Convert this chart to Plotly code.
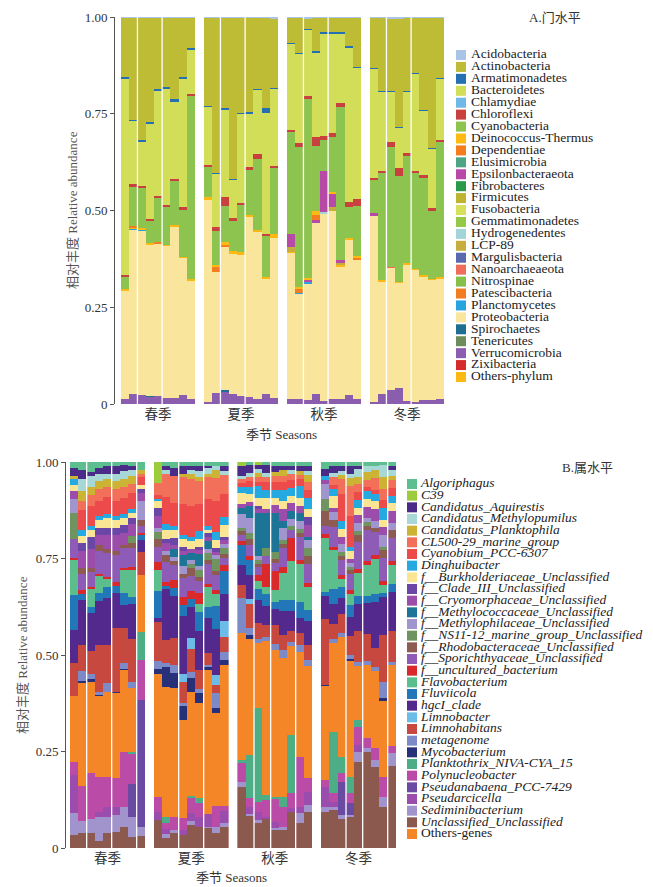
import plotly.graph_objects as go

W, H = 653, 887
FONT = "Liberation Serif, Noto Sans CJK SC, serif"

seasons = ["春季", "夏季", "秋季", "冬季"]
samples = ["1", "2", "3", "4", "5", "6", "7", "8", "9"]
y_ticks = [0, 0.25, 0.5, 0.75, 1.0]
y_ticktext = ["0", "0.25", "0.50", "0.75", "1.00"]

# ---------------- Phylum level (A) ----------------
phyla = ["Acidobacteria", "Actinobacteria", "Armatimonadetes", "Bacteroidetes", "Chlamydiae",
         "Chloroflexi", "Cyanobacteria", "Deinococcus-Thermus", "Dependentiae", "Elusimicrobia",
         "Epsilonbacteraeota", "Fibrobacteres", "Firmicutes", "Fusobacteria", "Gemmatimonadetes",
         "Hydrogenedentes", "LCP-89", "Margulisbacteria", "Nanoarchaeaeota", "Nitrospinae",
         "Patescibacteria", "Planctomycetes", "Proteobacteria", "Spirochaetes", "Tenericutes",
         "Verrucomicrobia", "Zixibacteria", "Others-phylum"]
phylum_colors = ["#A9C4E4", "#BEBB35", "#2470B3", "#D2DD58", "#70B8E6",
                 "#C8413E", "#8DC44F", "#FDBA12", "#F47D20", "#4CA585",
                 "#B74AA6", "#2A9A48", "#BDB431", "#D6E05A", "#93C947",
                 "#A3D5D8", "#C6AE3E", "#5A68B0", "#F06C5A", "#84C04A",
                 "#F27C22", "#27A4DE", "#F9E69C", "#1D6E92", "#6E8C59",
                 "#8B5DAE", "#D62B2D", "#FCB813"]

acidobacteria = [.003, .002, .002, .002, .002, .002, .002, .002, .002,
                 .002, .002, .002, .002, .002, .002, .002, .002, .004,
                 .003, .003, .004, .002, .002, .002, .002, .002, .002,
                 .002, .002, .004, .004, .002, .002, .002, .002, .002]
actinobacteria = [.153, .264, .317, .269, .184, .179, .209, .153, .078,
                  .227, .401, .234, .416, .245, .244, .183, .233, .178,
                  .064, .090, .027, .087, .038, .038, .038, .074, .126,
                  .131, .188, .186, .279, .188, .142, .238, .337, .156]
armatimonadetes = [.004, .004, .004, .005, .004, .004, .009, .004, .004,
                   .004, .002, .005, .002, .004, .004, .004, .013, .004,
                   .003, .003, .003, .003, .003, .003, .003, .003, .003,
                   .002, .004, .004, .003, .003, .003, .003, .003, .003]
bacteroidetes = [.507, .161, .113, .246, .272, .301, .199, .333, .116,
                 .149, .137, .225, .100, .229, .138, .165, .312, .199,
                 .221, .230, .171, .218, .264, .257, .179, .398, .340,
                 .282, .203, .128, .105, .159, .251, .165, .152, .157]
chlamydiae = [0, 0, 0, 0, 0, 0, 0, 0, 0, 0, 0, 0, 0, 0, 0, 0, 0, 0,
              0, 0, 0, 0, 0, 0, 0, 0, 0, 0, 0, 0, 0, 0, 0, 0, 0, 0]
chloroflexi = [.006, .007, .005, .006, .006, .006, .006, .006, .005,
               .006, .010, .022, .006, .007, .008, .013, .006, .006,
               .007, .010, .008, .024, .010, .009, .011, .013, .017,
               .004, .007, .013, .021, .006, .006, .007, .006, .006]
cyanobacteria = [.031, .102, .105, .057, .114, .096, .113, .121, .472,
                 .077, .089, .093, .079, .121, .116, .183, .106, .169,
                 .262, .362, .462, .168, .082, .142, .395, .080, .129,
                 .085, .276, .310, .272, .278, .246, .252, .176, .347]
deinococcus = [0, 0, 0, 0, 0, 0, 0, 0, 0,
               0, .005, .007, .008, 0, 0, 0, 0, 0,
               0, .004, .005, .010, 0, .006, 0, .006, .005,
               0, 0, 0, 0, 0, 0, 0, 0, 0]
dependentiae = [0, .004, 0, 0, .004, 0, 0, 0, 0,
                0, .012, .006, 0, 0, 0, 0, 0, 0,
                0, .010, 0, .012, 0, 0, 0, 0, .005,
                0, 0, 0, 0, 0, 0, 0, 0, 0]
elusimicrobia = [0, 0, 0, 0, 0, 0, 0, 0, 0, 0, 0, 0, 0, 0, 0, 0, 0, 0,
                 0, 0, 0, 0, 0, 0, 0, 0, 0, 0, 0, 0, 0, 0, 0, 0, 0, 0]
epsilonbacteraeota = [0, 0, 0, 0, 0, 0, 0, 0, 0,
                      0, 0, 0, 0, 0, 0, 0, 0, 0,
                      .034, 0, .006, .008, .104, .035, .008, 0, 0,
                      .008, 0, 0, 0, 0, 0, 0, 0, 0]
fibrobacteres = [0, 0, 0, 0, 0, 0, 0, 0, 0, 0, 0, 0, 0, 0, 0, 0, 0, 0,
                 0, 0, 0, 0, 0, 0, 0, 0, 0, 0, 0, 0, 0, 0, 0, 0, 0, 0]
firmicutes = [0, 0, 0, 0, 0, 0, 0, 0, 0, 0, 0, 0, 0, 0, 0, 0, 0, 0,
              0, 0, 0, 0, 0, 0, 0, 0, 0, 0, 0, 0, 0, 0, 0, 0, 0, 0]
fusobacteria = [0, 0, 0, 0, 0, 0, 0, 0, 0, 0, 0, 0, 0, 0, 0, 0, 0, 0,
                0, 0, 0, 0, 0, 0, 0, 0, 0, 0, 0, 0, 0, 0, 0, 0, 0, 0]
gemmatimonadetes = [0, 0, 0, 0, 0, 0, 0, 0, 0, 0, 0, 0, 0, 0, 0, 0, 0, 0,
                    0, 0, 0, 0, 0, 0, 0, 0, 0, 0, 0, 0, 0, 0, 0, 0, 0, 0]
hydrogenedentes = [0, 0, 0, 0, 0, 0, 0, 0, 0,
                   0, 0, 0, 0, 0, 0, 0, 0, 0,
                   0, 0, 0, 0, .005, 0, 0, 0, 0,
                   0, 0, 0, 0, 0, 0, 0, 0, 0]
lcp89 = [0, 0, 0, 0, 0, 0, 0, 0, 0,
         0, 0, 0, 0, 0, 0, 0, 0, 0,
         .012, 0, 0, 0, 0, .008, .005, 0, 0,
         0, 0, 0, 0, 0, 0, 0, 0, 0]
margulisbacteria = [0, 0, 0, 0, 0, 0, 0, 0, 0, 0, 0, 0, 0, 0, 0, 0, 0, 0,
                    0, 0, 0, 0, 0, 0, 0, 0, 0, 0, 0, 0, 0, 0, 0, 0, 0, 0]
nanoarchaeaeota = [0, 0, 0, 0, 0, 0, 0, 0, 0,
                   0, 0, 0, 0, 0, 0, 0, 0, 0,
                   0, 0, 0, 0, 0, 0, 0, 0, 0,
                   0, 0, .004, 0, 0, 0, 0, 0, 0]
nitrospinae = [0, 0, 0, 0, 0, 0, 0, 0, 0, 0, 0, 0, 0, 0, 0, 0, 0, 0,
               0, 0, 0, 0, 0, 0, 0, 0, 0, 0, 0, 0, 0, 0, 0, 0, 0, 0]
patescibacteria = [0, 0, 0, 0, 0, 0, 0, 0, 0, 0, 0, 0, 0, 0, 0, 0, 0, 0,
                   0, 0, 0, 0, 0, 0, 0, 0, 0, 0, 0, 0, 0, 0, 0, 0, 0, 0]
planctomycetes = [0, .003, .003, 0, 0, 0, 0, 0, 0,
                  0, 0, 0, 0, 0, 0, 0, 0, 0,
                  0, .004, .005, 0, 0, 0, 0, 0, 0,
                  0, 0, 0, 0, 0, 0, 0, 0, 0]
proteobacteria = [.280, .424, .425, .392, .393, .394, .443, .354, .307,
                  .521, .313, .371, .360, .366, .464, .433, .297, .414,
                  .377, .272, .299, .443, .485, .488, .343, .401, .361,
                  .480, .291, .315, .270, .352, .340, .318, .310, .310]
spirochaetes = [0, 0, 0, .003, 0, 0, 0, 0, 0,
                0, 0, .004, 0, 0, 0, 0, 0, 0,
                0, 0, 0, 0, 0, 0, 0, 0, 0,
                0, 0, 0, 0, 0, 0, 0, 0, 0]
tenericutes = [0, 0, 0, 0, 0, 0, 0, 0, 0, 0, 0, 0, 0, 0, 0, 0, 0, 0,
               0, 0, 0, 0, 0, 0, 0, 0, 0, 0, 0, 0, 0, 0, 0, 0, 0, 0]
verrucomicrobia = [.012, .026, .022, .017, .021, .015, .015, .023, .012,
                   .006, .029, .031, .027, .020, .018, .012, .025, .015,
                   .012, .012, .010, .025, .007, .012, .012, .023, .012,
                   .006, .025, .036, .042, .008, .006, .010, .010, .014]
zixibacteria = [0, 0, 0, 0, 0, 0, 0, 0, 0, 0, 0, 0, 0, 0, 0, 0, 0, 0,
                0, 0, 0, 0, 0, 0, 0, 0, 0, 0, 0, 0, 0, 0, 0, 0, 0, 0]
others_phylum = [.004, .003, .004, .003, 0, .003, .004, .004, .004,
                 .008, 0, 0, 0, .006, .006, .005, .006, .010,
                 .005, 0, 0, 0, 0, 0, .004, 0, 0,
                 0, .004, 0, .004, .004, .004, .005, .004, .005]

phylum_series = [acidobacteria, actinobacteria, armatimonadetes, bacteroidetes, chlamydiae,
                 chloroflexi, cyanobacteria, deinococcus, dependentiae, elusimicrobia,
                 epsilonbacteraeota, fibrobacteres, firmicutes, fusobacteria, gemmatimonadetes,
                 hydrogenedentes, lcp89, margulisbacteria, nanoarchaeaeota, nitrospinae,
                 patescibacteria, planctomycetes, proteobacteria, spirochaetes, tenericutes,
                 verrucomicrobia, zixibacteria, others_phylum]

# ---------------- Genus level (B) ----------------
genera = ["Algoriphagus", "C39", "Candidatus_Aquirestis", "Candidatus_Methylopumilus",
          "Candidatus_Planktophila", "CL500-29_marine_group", "Cyanobium_PCC-6307", "Dinghuibacter",
          "f__Burkholderiaceae_Unclassified", "f__Clade_III_Unclassified",
          "f__Cryomorphaceae_Unclassified", "f__Methylococcaceae_Unclassified",
          "f__Methylophilaceae_Unclassified", "f__NS11-12_marine_group_Unclassified",
          "f__Rhodobacteraceae_Unclassified", "f__Sporichthyaceae_Unclassified",
          "f__uncultured_bacterium", "Flavobacterium", "Fluviicola", "hgcI_clade", "Limnobacter",
          "Limnohabitans", "metagenome", "Mycobacterium", "Planktothrix_NIVA-CYA_15",
          "Polynucleobacter", "Pseudanabaena_PCC-7429", "Pseudarcicella", "Sediminibacterium",
          "Unclassified_Unclassified", "Others-genes"]
genus_colors = ["#5DBE8F", "#9CCB3E", "#4B2B88", "#A7D8D6", "#CDB334", "#F2705A", "#EC4A4B",
                "#24A9E1", "#FAE594", "#6A46A6", "#9C4DAC", "#1C7597", "#A095CC", "#6F9460",
                "#8E5B52", "#8E5BB6", "#D9292B", "#5BBE8C", "#2277B8", "#54298D", "#6DBCE8",
                "#C7483F", "#7C8BC8", "#29307A", "#4DAD85", "#BA4CA8", "#6A4AA2", "#9B4DAD",
                "#A193CB", "#8C594E", "#F58628"]
italic_names = [True] * 30 + [False]

algoriphagus = [.015, .02, .025, .015, .01, .01, .009, .01, .02,
                0, .01, .016, .01, .01, .01, .01, .01, .01,
                0, .009, 0, .008, .01, .01, .01, .01, .01,
                .017, .01, .01, .011, .01, .01, .01, .009, .01]
c39 = [0, 0, 0, 0, 0, 0, 0, 0, 0,
       .055, 0, 0, 0, 0, 0, 0, 0, 0,
       .01, 0, .008, 0, 0, 0, 0, 0, 0,
       0, 0, 0, 0, 0, 0, 0, 0, 0]
aquirestis = [.02, .025, .01, .015, .02, .02, .015, .011, 0,
              0, .01, .02, .02, .01, .014, .005, 0, .013,
              .025, .02, .01, .02, .017, .012, .01, .013, .013,
              .02, .019, .013, .02, .008, 0, 0, 0, .01]
methylopumilus = [0, .03, .03, .02, .015, .02, .02, .015, 0,
                  0, .01, 0, 0, .01, .015, .015, .012, .01,
                  .01, .01, .01, .01, 0, 0, .012, 0, .01,
                  0, .01, .01, .01, .02, .016, .012, .03, .017]
planktophila = [.01, .025, .02, .02, .02, .02, .02, .02, .01,
                0, 0, 0, .01, .015, .01, .01, .02, 0,
                0, 0, .01, 0, .01, .015, 0, .01, .02,
                0, 0, .01, .02, .02, .02, .02, .03, .01]
cl500 = [0, .025, .03, .03, .025, .03, .03, .025, .01,
         .03, .06, .07, .07, .07, .06, .055, .06, .05,
         .01, .01, .015, .015, .015, .015, .015, .01, .02,
         0, .02, .04, .08, .02, .02, .03, .03, .02]
cyanobium = [0, .05, .05, .04, .045, .04, .04, .04, .02,
             .01, .07, .06, .08, .08, .07, .07, .08, .06,
             .01, .015, .01, .02, .02, .02, .02, .02, .02,
             0, .01, .07, .08, .02, .01, .01, .02, .02]
dinghuibacter = [.015, .015, .01, .01, .01, .01, .01, .01, 0,
                 .005, .015, .01, .01, .01, .02, .01, .02, .02,
                 .015, .02, .03, .02, .02, .03, .02, .03, .03,
                 .01, .02, .02, .01, .02, .02, .02, .03, .02]
burkholderiaceae = [.015, .02, .02, .02, .025, .02, .02, .015, .01,
                    .02, .025, .02, .02, .02, .02, .01, .02, .03,
                    .03, .02, .02, .03, .02, .02, .02, .02, .02,
                    0, .03, .02, .02, .02, .02, .02, .02, .02]
clade_iii = [0, .02, .03, .02, .02, .02, .02, .015, .01,
             .02, .01, .02, .01, 0, .01, .01, .01, .01,
             0, 0, .01, 0, 0, 0, 0, 0, .02,
             0, 0, 0, 0, 0, 0, 0, 0, 0]
cryomorphaceae = [.02, .045, .05, .025, .035, .04, .03, .03, .02,
                  .03, .02, .01, .01, .01, .01, .01, .01, .01,
                  .01, .01, .01, .01, .02, .03, .02, .02, .03,
                  .01, .01, .02, .01, .02, .03, .03, .02, .03]
methylococcaceae = [0, 0, 0, 0, 0, 0, 0, 0, 0,
                    0, 0, .02, .03, .02, .03, .02, 0, 0,
                    .015, .03, .11, .09, .10, .02, .02, .02, .01,
                    0, 0, 0, 0, 0, 0, 0, 0, 0]
methylophilaceae = [.037, 0, 0, 0, 0, 0, 0, 0, .05,
                    .01, .01, .01, .02, .01, .01, .01, .01, .01,
                    .035, .04, .01, 0, 0, .03, .02, .02, .02,
                    .04, .02, .02, .01, .02, .01, .02, .03, .02]
ns11_12 = [.068, 0, 0, 0, 0, 0, 0, .02, 0,
           .02, 0, 0, 0, .01, .02, .02, .03, .015,
           .01, .015, .01, .02, .02, .01, .01, .01, .02,
           .03, 0, .01, .01, .01, .01, 0, .01, 0]
rhodobacteraceae = [0, .015, .01, .015, .012, .012, .01, .012, .015,
                    .02, .02, .01, .01, .02, .01, .01, .01, .01,
                    .01, .015, .01, 0, .01, .01, 0, .01, .02,
                    .04, .02, .01, .01, .02, .01, .01, .02, .02]
sporichthyaceae = [.048, .04, .04, .06, .06, .07, .05, .05, .02,
                   .04, .05, .04, .05, .04, .03, .05, .04, .02,
                   .015, .03, .02, .02, .02, .05, .02, .06, .05,
                   .02, .05, .04, .04, .07, .08, .06, .06, .06]
uncultured = [.007, .012, .005, .005, .006, .008, .006, .006, .005,
              .02, .01, .02, .02, .02, .03, .01, .01, .015,
              .01, .01, .015, .06, .05, .015, .06, .01, .01,
              .01, .01, .01, .01, .01, .01, .01, .01, .01]
flavobacterium = [.09, 0, .045, .045, .02, 0, .06, .07, 0,
                  .055, 0, 0, 0, 0, .02, .05, .03, 0,
                  0, 0, .02, .02, .03, .07, .10, .10, .06,
                  .14, .10, .02, .03, .06, .08, .09, .02, .05]
fluviicola = [.09, .015, .015, .02, .03, .02, .03, .02, .012,
              .07, .01, .02, .03, .02, .05, .03, .06, .06,
              .052, .04, .03, .03, .02, .03, .03, .04, .03,
              .01, .04, .03, .03, .02, .02, .02, .01, .02]
hgci_clade = [.085, .115, .10, .115, .12, .09, .06, .09, .03,
              .01, .13, .11, .148, .08, .10, .09, .12, .07,
              .052, .06, .06, .05, .04, .06, .05, .04, .06,
              .06, .05, .04, .05, .07, .08, .12, .10, .10]
limnobacter = [0, 0, 0, 0, 0, 0, 0, 0, 0,
               0, 0, 0, .021, .03, 0, 0, .026, .04,
               0, .015, 0, 0, 0, 0, 0, 0, 0,
               0, 0, 0, 0, 0, 0, 0, 0, 0]
limnohabitans = [.086, .068, .06, .12, .10, .165, .092, .11, .06,
                 .10, .06, .07, .056, .06, .05, .03, .021, .04,
                 .034, .06, .04, .03, .05, .04, .03, .03, .04,
                 .17, .04, .05, .05, .08, .07, .05, .12, .08]
metagenome = [0, .026, .012, .008, .022, 0, .013, .017, 0,
              .02, .01, .02, .008, .015, .01, .006, .039, .02,
              .091, .02, .01, .01, .015, .02, .01, .02, .016,
              0, .01, .01, .01, .01, .01, .01, .043, .01]
mycobacterium = [0, .004, .008, .003, 0, .004, .004, 0, 0,
                 .013, .052, .04, .035, .035, .026, .008, .013, .013,
                 0, .01, 0, 0, 0, 0, 0, 0, 0,
                 .003, 0, 0, .004, 0, 0, 0, .007, 0]
planktothrix = [0, 0, 0, 0, 0, 0, 0, .006, .073,
                0, .017, 0, 0, .005, .013, 0, 0, 0,
                .008, .112, .242, .012, .005, .026, .151, 0, 0,
                0, .159, .043, .043, .018, 0, 0, 0, 0]
polynucleobacter = [.032, .09, .119, .091, .078, .075, .143, .079, .104,
                    .037, .015, .035, .03, .04, .035, 0, .053, .013,
                    .048, .022, .027, .044, .06, .052, .039, .13, .035,
                    .019, .022, .022, .026, .047, .026, .03, .052, .017]
pseudanabaena = [0, 0, 0, 0, 0, 0, 0, .084, .328,
                 0, 0, 0, 0, 0, 0, 0, 0, 0,
                 0, 0, 0, 0, 0, 0, 0, 0, 0,
                 0, 0, .086, .03, 0, 0, 0, 0, 0]
pseudarcicella = [.10, 0, 0, .013, .026, .022, 0, 0, 0,
                  .021, .012, 0, .013, .02, .026, .032, 0, .03,
                  0, .019, .02, .005, .017, 0, .009, .017, .034,
                  .05, .013, 0, 0, .017, 0, 0, 0, 0]
sediminibacterium = [.056, .031, .037, .064, .043, .044, .052, .053, .025,
                     0, .01, .008, 0, .01, 0, .004, .017, .01,
                     .013, .006, .009, 0, .005, .009, 0, .026, .02,
                     .013, .008, .01, .005, .026, .009, .017, .026, .034]
unclassified = [.034, .038, .038, .017, .038, .041, .055, .028, .03,
                .073, .027, .038, .034, .06, .055, .051, .038, .055,
                .159, .082, .064, .076, .046, .046, .094, .064, .092,
                .094, .099, .076, .081, .224, .249, .211, .107, .212]
others_genes = [.172, .268, .236, .209, .22, .219, .211, .164, .148,
                .32, .337, .333, .255, .27, .246, .374, .241, .366,
                .328, .30, .17, .40, .38, .36, .23, .27, .29,
                .244, .23, .31, .30, .14, .19, .20, .196, .21]

genus_series = [algoriphagus, c39, aquirestis, methylopumilus, planktophila, cl500, cyanobium,
                dinghuibacter, burkholderiaceae, clade_iii, cryomorphaceae, methylococcaceae,
                methylophilaceae, ns11_12, rhodobacteraceae, sporichthyaceae, uncultured,
                flavobacterium, fluviicola, hgci_clade, limnobacter, limnohabitans, metagenome,
                mycobacterium, planktothrix, polynucleobacter, pseudanabaena, pseudarcicella,
                sediminibacterium, unclassified, others_genes]

# samples within a season belong to sampling sites; white rules separate them
top_site_sizes = [[2, 3, 4], [2, 3, 4], [2, 3, 4], [2, 3, 4]]
bottom_site_sizes = [[2, 3, 3, 1], [3, 3, 3], [2, 2, 3, 2], [3, 2, 3, 1]]


def px_x(p):
    return p / W


def px_y(p):
    return 1 - p / H


def relative(series_list):
    n = len(series_list[0])
    totals = [sum(s[i] for s in series_list) for i in range(n)]
    return [[s[i] / totals[i] for i in range(n)] for s in series_list]


fig = go.Figure()
shapes = []
layout_axes = {}

panels = [
    dict(names=phyla, colors=phylum_colors, series=relative(phylum_series), yaxis="y",
         first_axis=1, x0=121, fw=74, step=83, y_top=17, y_bot=404, yline=114,
         sites=top_site_sizes),
    dict(names=genera, colors=genus_colors, series=relative(genus_series), yaxis="y2",
         first_axis=5, x0=70, fw=75, step=83.67, y_top=462, y_bot=848, yline=65,
         sites=bottom_site_sizes),
]

for p in panels:
    color_of = dict(zip(p["names"], p["colors"]))
    values_of = dict(zip(p["names"], p["series"]))
    stack_bottom_first = sorted(p["names"], key=str.lower)[::-1]
    for s, season in enumerate(seasons):
        ax_num = p["first_axis"] + s
        xa = "x" if ax_num == 1 else f"x{ax_num}"
        for name in stack_bottom_first:
            vals = values_of[name][s * 9:(s + 1) * 9]
            fig.add_trace(go.Bar(x=samples, y=vals, xaxis=xa, yaxis=p["yaxis"], name=name,
                                 marker=dict(color=color_of[name], line=dict(width=0)),
                                 showlegend=False, hoverinfo="skip"))
        left = p["x0"] + s * p["step"]
        layout_axes[f"xaxis{'' if ax_num == 1 else ax_num}"] = dict(
            domain=[px_x(left), px_x(left + p["fw"])], anchor=p["yaxis"],
            type="category", categoryorder="array", categoryarray=samples,
            range=[-0.5, len(samples) - 0.5], automargin=False,
            showgrid=False, zeroline=False, showline=False, ticks="",
            tickvals=[samples[len(samples) // 2]], ticktext=[season],
            tickfont=dict(family=FONT, size=13.5, color="#333"))
        pos = -0.5
        for size in p["sites"][s][:-1]:
            pos += size
            shapes.append(dict(type="line", xref=xa, yref=p["yaxis"], x0=pos, x1=pos,
                               y0=0, y1=1, line=dict(color="white", width=1.3), layer="above"))
    yname = "yaxis" if p["yaxis"] == "y" else "yaxis2"
    layout_axes[yname] = dict(
        domain=[px_y(p["y_bot"]), px_y(p["y_top"])], range=[0, 1], anchor="free",
        position=px_x(p["yline"]), showline=True, linecolor="#555", linewidth=1,
        ticks="outside", ticklen=4, tickcolor="#555", tickwidth=1, automargin=False,
        tickvals=y_ticks, ticktext=y_ticktext, showgrid=False, zeroline=False,
        tickfont=dict(family=FONT, size=13, color="#333"))

# ---------------- custom legends (tight spacing as in the reference) ----------------
legends = [
    dict(names=phyla, colors=phylum_colors, italic=[False] * len(phyla), xa="x9", ya="y3",
         sq_x=461, first_y=55, last_y=377, gap=10, size=13.5),
    dict(names=genera, colors=genus_colors, italic=italic_names, xa="x10", ya="y4",
         sq_x=412, first_y=484, last_y=834, gap=9, size=13.5),
]
for i, lg in enumerate(legends):
    n = len(lg["names"])
    step = (lg["last_y"] - lg["first_y"]) / (n - 1)
    top = lg["first_y"] - step / 2
    bot = lg["last_y"] + step / 2
    idx = list(range(n))
    labels = [f"<i>{nm}</i>" if it else nm for nm, it in zip(lg["names"], lg["italic"])]
    fig.add_trace(go.Scatter(x=[0] * n, y=idx, mode="markers", xaxis=lg["xa"], yaxis=lg["ya"],
                             marker=dict(symbol="square", size=10, color=lg["colors"],
                                         line=dict(width=0)),
                             cliponaxis=False, showlegend=False, hoverinfo="skip"))
    fig.add_trace(go.Scatter(x=[lg["gap"]] * n, y=idx, mode="text", xaxis=lg["xa"], yaxis=lg["ya"],
                             text=labels, textposition="middle right",
                             textfont=dict(family=FONT, size=lg["size"], color="#222"),
                             cliponaxis=False, showlegend=False, hoverinfo="skip"))
    layout_axes[f"xaxis{9 + i}"] = dict(domain=[px_x(lg["sq_x"]), 1], range=[0, W - lg["sq_x"]],
                                        anchor=lg["ya"], visible=False, automargin=False)
    layout_axes[f"yaxis{3 + i}"] = dict(domain=[px_y(bot), px_y(top)], range=[n - 0.5, -0.5],
                                        anchor=lg["xa"], visible=False, automargin=False)

annotations = [
    dict(text="相对丰度 Relative abundance", x=px_x(72), y=px_y(210), textangle=-90,
         font=dict(family=FONT, size=13, color="#555")),
    dict(text="相对丰度 Relative abundance", x=px_x(22), y=px_y(655), textangle=-90,
         font=dict(family=FONT, size=13, color="#555")),
    dict(text="季节 Seasons", x=px_x(281), y=px_y(434),
         font=dict(family=FONT, size=13, color="#333")),
    dict(text="季节 Seasons", x=px_x(231), y=px_y(877),
         font=dict(family=FONT, size=13, color="#333")),
    dict(text="A.门水平", x=px_x(555), y=px_y(17),
         font=dict(family=FONT, size=13, color="#333")),
    dict(text="B.属水平", x=px_x(587), y=px_y(468),
         font=dict(family=FONT, size=13, color="#333")),
]
for a in annotations:
    a.update(xref="paper", yref="paper", showarrow=False, xanchor="center", yanchor="middle")

fig.update_layout(
    template="none",
    width=W, height=H, margin=dict(l=0, r=0, t=0, b=0, pad=0, autoexpand=False),
    paper_bgcolor="white", plot_bgcolor="white",
    barmode="stack", bargap=0, showlegend=False, hovermode=False,
    font=dict(family=FONT, color="#333"),
    shapes=shapes, annotations=annotations,
    **layout_axes,
)

# the page's default body margin would shift the figure; remove it so the chart fills the window
fig.write_html("out.html",
               config={"displayModeBar": False, "staticPlot": True},
               post_script="document.body.style.margin='0';document.body.style.overflow='hidden';")
